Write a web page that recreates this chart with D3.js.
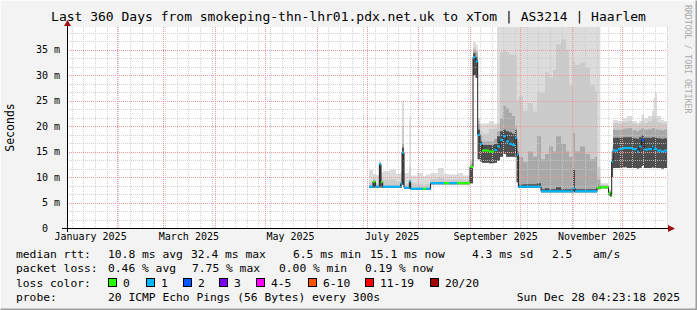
<!DOCTYPE html>
<html>
<head>
<meta charset="utf-8">
<script src="https://cdn.jsdelivr.net/npm/d3@7"></script>
<style>
body { margin: 0; background: #f3f3f3; }
svg text { font-family: "DejaVu Sans Mono", monospace; }
</style>
</head>
<body>
<div id="chart"></div>
<script>
// days since 1 Jan 2025 00:00 UTC, one row per sample (step after)
var days = [182.4,184.8,186.2,188.6,189.6,190.6,195.0,198.6,201.4,202.2,203.4,206.6,207.4,211.2,214.8,216.6,219.3,223.8,227.4,230.4,235.2,238.8,243.0,244.8,246.3,247.6,249.0,250.2,254.4,257.4,259.2,261.0,262.8,264.6,266.4,268.2,270.0,271.0,272.0,274.8,277.8,280.8,283.2,285.6,288.0,290.4,292.8,294.6,297.6,300.6,302.4,304.8,306.0,309.0,312.0,315.0,318.0,319.2,321.2,326.1,327.3,328.0,328.8,331.8,334.8,337.2,340.2,343.2,344.4,345.9,347.4,349.8,352.2,353.1,354.0,355.2,357.6,359.4];
// median rtt in ms
var median = [8.1,9.1,8.1,12.5,9.0,8.1,8.1,8.1,8.7,14.8,7.9,9.1,7.7,7.7,7.7,7.7,8.8,8.8,8.8,8.8,8.8,8.8,12.0,33.5,32.7,18.3,16.5,15.2,15.0,15.3,16.0,17.3,18.0,17.0,16.5,16.3,17.7,14.4,8.1,8.1,8.1,8.1,8.1,7.2,7.2,7.2,7.2,7.2,7.2,7.2,7.2,7.8,7.2,7.2,7.2,7.2,7.2,7.9,8.0,6.9,6.3,13.0,15.2,15.5,15.7,15.7,15.5,15.0,16.0,17.3,15.4,15.5,16.0,15.5,15.5,15.2,15.0,15.2];
// lost pings out of 20
var loss = [1,0,1,1,0,1,1,1,1,1,1,1,1,1,0,1,1,1,0,1,0,0,0,1,1,1,1,0,0,1,1,1,1,1,1,1,1,1,1,1,1,1,1,1,1,1,1,1,1,1,1,1,1,1,1,1,1,0,0,0,0,1,1,1,1,1,1,1,1,2,1,1,1,1,1,1,1,1];
// smoke: bottom of the smoke and tops of the four shades (ms)
var smokeLow = [7.9,7.9,7.9,8.0,7.9,7.9,7.9,7.9,7.9,8.5,7.7,7.7,7.5,7.5,7.5,7.5,8.6,8.6,8.6,8.6,8.6,8.6,8.8,30.0,29.5,13.5,13.0,12.8,12.7,12.8,13.2,14.0,14.5,14.0,14.0,14.0,14.0,9.0,7.9,7.9,7.9,7.9,7.9,7.0,7.0,7.0,7.0,7.0,7.0,7.0,7.0,7.0,7.0,7.0,7.0,7.0,7.0,7.6,7.8,6.4,6.1,10.0,11.8,11.8,11.9,11.8,11.8,11.7,11.8,12.2,11.8,11.8,11.9,11.8,11.8,11.8,11.7,11.8];
var smokeCore = [8.1,9.1,8.1,12.5,9.0,8.1,8.1,8.1,8.7,15.8,7.9,9.1,7.7,7.7,7.7,7.7,8.8,8.8,8.8,8.8,8.8,8.8,12.0,34.3,33.5,19.3,17.0,16.3,16.3,16.5,18.0,19.0,19.3,19.0,18.8,18.5,19.3,15.0,8.5,8.6,8.6,8.6,8.8,7.6,7.8,7.6,7.6,8.0,7.6,7.6,7.6,11.4,7.6,7.6,7.6,7.6,7.6,8.2,8.1,7.0,6.4,13.5,17.7,17.7,17.8,17.8,17.6,17.5,17.8,18.2,17.7,17.7,17.8,17.8,17.7,17.6,17.5,17.6];
var smokeDark = [8.3,9.3,8.3,12.8,9.2,8.3,8.3,8.3,9.0,16.5,8.1,9.5,7.9,7.9,7.9,7.9,9.0,9.0,9.0,9.0,9.0,9.0,12.5,35.0,34.5,20.3,18.0,17.0,17.0,17.5,19.0,21.5,24.0,23.5,22.6,22.0,20.0,17.0,14.0,13.0,15.0,14.0,18.0,13.5,14.5,16.0,15.0,18.0,16.5,15.0,14.0,18.7,15.0,16.0,14.5,13.5,14.0,9.5,8.3,7.2,6.6,14.5,19.3,19.3,19.5,19.6,19.2,19.0,19.3,19.6,19.3,19.4,19.6,19.6,19.5,19.3,19.2,19.3];
var smokeMid = [9.0,9.8,8.8,13.0,9.8,9.5,9.6,9.2,9.8,20.0,8.6,12.0,8.8,8.6,8.5,8.7,9.6,9.8,9.5,9.5,9.6,9.4,13.0,35.5,35.0,21.0,19.0,18.5,19.5,19.5,20.5,34.5,35.0,34.5,34.0,34.0,34.0,25.0,25.8,23.0,24.5,22.8,26.8,26.5,30.5,29.5,31.0,36.0,37.0,35.0,28.0,32.7,32.0,32.5,31.5,28.0,26.8,12.0,8.5,7.4,6.8,15.0,20.6,20.4,20.8,21.0,20.5,20.2,20.5,21.0,20.6,21.0,21.5,22.0,21.5,20.8,20.6,20.6];
var smokeMax = [11.4,10.6,10.4,13.2,10.8,11.2,11.5,10.6,11.0,24.8,10.8,22.0,10.3,10.8,10.2,10.5,10.8,11.8,10.6,10.5,10.8,10.3,13.5,36.5,36.0,21.5,20.5,20.5,21.0,20.5,45,45,45,45,45,45,45,45,45,45,45,45,45,45,45,45,45,45,45,45,45,45,45,45,45,45,45,45,8.8,7.6,7.0,16.0,21.2,21.0,21.5,22.0,21.0,20.6,21.0,22.3,21.5,22.0,23.0,25.5,26.5,22.0,21.2,21.0];

var yTicks = [0, 5, 10, 15, 20, 25, 30, 35];
var lossLabels = ["0", "1", "2", "3", "4-5", "6-10", "11-19", "20/20"];
var lossColors = ["#26ff00", "#00b8ff", "#0059ff", "#7e00ff", "#ff00ff", "#ff5500", "#ff0000", "#a10000"];
var rttStats = ["10.8 ms avg", "32.4 ms max", "6.5 ms min", "15.1 ms now", "4.3 ms sd", "2.5", "am/s"];
var lossStats = ["0.46 % avg", "7.75 % max", "0.00 % min", "0.19 % now"];

var W = 697, H = 310;
var plot = {left: 67, right: 667, top: 27, bottom: 228};
var end = new Date(Date.UTC(2025, 11, 28, 4, 23, 18));
var start = new Date(end.getTime() - 360 * 864e5);
var jan1 = Date.UTC(2025, 0, 1);

var data = days.map(function(d, i) {
    return { date: new Date(jan1 + d * 864e5), med: median[i], loss: loss[i],
             low: smokeLow[i], core: smokeCore[i], dark: smokeDark[i], mid: smokeMid[i], max: smokeMax[i] };
});
// close the last step at the right edge
data.push(Object.assign({}, data[data.length - 1], { date: end }));

var x_scale = d3.scaleUtc().domain([start, end]).range([plot.left, plot.right]);
var y_scale = d3.scaleLinear().domain([0, 39.45]).range([plot.bottom, plot.top]);

var svg = d3.select("#chart").append("svg")
    .attr("width", W).attr("height", H);

svg.append("rect").attr("width", W).attr("height", H).attr("fill", "#f3f3f3");
// frame
svg.append("path").attr("d", "M0.5," + (H - 0.5) + "V0.5H" + (W - 0.5)).attr("fill", "none").attr("stroke", "#fcfcfc");
svg.append("path").attr("d", "M0.5," + (H - 0.5) + "H" + (W - 0.5) + "V0.5").attr("fill", "none").attr("stroke", "#9e9e9e").attr("stroke-width", 2);

svg.append("rect")
    .attr("x", plot.left).attr("y", plot.top)
    .attr("width", plot.right - plot.left).attr("height", plot.bottom - plot.top)
    .attr("fill", "#ffffff");

svg.append("clipPath").attr("id", "clip").append("rect")
    .attr("x", plot.left).attr("y", plot.top)
    .attr("width", plot.right - plot.left).attr("height", plot.bottom - plot.top);

var g = svg.append("g").attr("clip-path", "url(#clip)");

// smoke shades, lightest first
var shades = [["max", "#dcdcdc"], ["mid", "#cbcbcb"], ["dark", "#a9a9a9"], ["core", "#4f4f4f"]];
shades.forEach(function(s) {
    g.append("path")
        .datum(data)
        .attr("fill", s[1])
        .attr("d", d3.area()
            .curve(d3.curveStepAfter)
            .x(function(d) { return x_scale(d.date) })
            .y0(function(d) { return y_scale(d.low) })
            .y1(function(d) { return y_scale(d[s[0]]) }));
});

// grid
var grid = svg.append("g");
var minorY = d3.range(0, 39.45, 5 / 3).filter(function(v) { return Math.abs(v / 5 - Math.round(v / 5)) > 0.01 });
grid.selectAll(".hmin").data(minorY).enter().append("line")
    .attr("x1", plot.left).attr("x2", plot.right)
    .attr("y1", function(d) { return Math.round(y_scale(d)) + 0.5 })
    .attr("y2", function(d) { return Math.round(y_scale(d)) + 0.5 })
    .attr("stroke", "#c8c8c8").attr("stroke-opacity", 0.8).attr("stroke-dasharray", "1,1");
grid.selectAll(".vmin").data(d3.utcSunday.range(start, end)).enter().append("line")
    .attr("x1", function(d) { return Math.round(x_scale(d)) + 0.5 })
    .attr("x2", function(d) { return Math.round(x_scale(d)) + 0.5 })
    .attr("y1", plot.top).attr("y2", plot.bottom)
    .attr("stroke", "#c8c8c8").attr("stroke-opacity", 0.8).attr("stroke-dasharray", "1,1");
grid.selectAll(".hmaj").data(yTicks.slice(1)).enter().append("line")
    .attr("x1", plot.left).attr("x2", plot.right)
    .attr("y1", function(d) { return Math.round(y_scale(d)) + 0.5 })
    .attr("y2", function(d) { return Math.round(y_scale(d)) + 0.5 })
    .attr("stroke", "#f19999").attr("stroke-dasharray", "1,1");
grid.selectAll(".vmaj").data(d3.utcMonth.range(start, end)).enter().append("line")
    .attr("x1", function(d) { return Math.round(x_scale(d)) + 0.5 })
    .attr("x2", function(d) { return Math.round(x_scale(d)) + 0.5 })
    .attr("y1", plot.top).attr("y2", plot.bottom)
    .attr("stroke", "#f19999").attr("stroke-dasharray", "1,1");

// median line: thin dark step line, then loss coloured pieces
var lines = svg.append("g").attr("clip-path", "url(#clip)");
lines.append("path")
    .datum(data)
    .attr("fill", "none")
    .attr("stroke", "#202020")
    .attr("stroke-width", 1)
    .attr("d", d3.line()
        .curve(d3.curveStepAfter)
        .x(function(d) { return x_scale(d.date) })
        .y(function(d) { return y_scale(d.med) }));
lines.selectAll(".seg").data(data.slice(0, -1)).enter().append("line")
    .attr("x1", function(d) { return x_scale(d.date) })
    .attr("x2", function(d, i) { return x_scale(data[i + 1].date) })
    .attr("y1", function(d) { return y_scale(d.med) })
    .attr("y2", function(d) { return y_scale(d.med) })
    .attr("stroke", function(d) { return lossColors[d.loss] })
    .attr("stroke-width", 2.2);

// axes
var xAxis = svg.append("g")
    .attr("transform", "translate(0," + plot.bottom + ")")
    .call(d3.axisBottom(x_scale)
        .tickValues(d3.utcMonth.every(2).range(d3.utcMonth.floor(start), end).map(function(d) { return d3.utcDay.offset(d, 15) }))
        .tickFormat(function(d) { return d3.utcFormat("%B %Y")(d) })
        .tickSize(0).tickPadding(5));
xAxis.select(".domain").remove();
xAxis.selectAll("text").attr("font-family", "DejaVu Sans Mono").attr("font-size", 10).attr("fill", "#000");

var yAxis = svg.append("g")
    .attr("transform", "translate(" + (plot.left - 7) + ",0)")
    .call(d3.axisLeft(y_scale)
        .tickValues(yTicks)
        .tickFormat(function(d) { return d === 0 ? "0\u00a0\u00a0" : d + " m" })
        .tickSize(0).tickPadding(0));
yAxis.select(".domain").remove();
yAxis.selectAll("text").attr("font-family", "DejaVu Sans Mono").attr("font-size", 10).attr("fill", "#000");

svg.append("line").attr("x1", plot.left - 5).attr("x2", plot.right + 3)
    .attr("y1", plot.bottom + 0.5).attr("y2", plot.bottom + 0.5).attr("stroke", "#000");
svg.append("line").attr("x1", plot.left + 0.5).attr("x2", plot.left + 0.5)
    .attr("y1", plot.bottom + 4).attr("y2", plot.top - 2).attr("stroke", "#000");
svg.append("path").attr("fill", "#a01010")
    .attr("d", "M" + (plot.right + 1) + "," + (plot.bottom - 3) + "l7,3.5l-7,3.5z");
svg.append("path").attr("fill", "#a01010")
    .attr("d", "M" + (plot.left - 3) + "," + (plot.top - 1) + "l3.5,-6l3.5,6z");

// texts
svg.append("text").attr("x", W / 2).attr("y", 21).attr("text-anchor", "middle")
    .attr("font-size", 13).attr("fill", "#000")
    .text("Last 360 Days from smokeping-thn-lhr01.pdx.net.uk to xTom | AS3214 | Haarlem");
svg.append("text").attr("transform", "translate(14," + ((plot.top + plot.bottom) / 2) + ") rotate(-90)")
    .attr("text-anchor", "middle").attr("font-size", 11.5).attr("fill", "#000").text("Seconds");
svg.append("text").attr("transform", "translate(685,5) rotate(90)")
    .attr("font-size", 8.2).attr("fill", "#aaaaaa").text("RRDTOOL / TOBI OETIKER");

var legend = svg.append("g").attr("font-size", 11.3).attr("fill", "#000");
function put(str, x, y, anchor) {
    legend.append("text").attr("x", x).attr("y", y).attr("text-anchor", anchor || "start")
        .style("white-space", "pre").text(str);
}
put("median rtt:", 16, 258);
[108, 191, 293, 370, 472, 552, 593].forEach(function(x, i) { put(rttStats[i], x, 258) });
put("packet loss:", 16, 272);
[108, 192, 279, 365].forEach(function(x, i) { put(lossStats[i], x, 272) });
put("loss color:", 16, 287);
[108, 146, 183, 219, 256, 308, 365, 430].forEach(function(x, i) {
    legend.append("rect").attr("x", x + 0.5).attr("y", 278.5).attr("width", 8).attr("height", 8)
        .attr("fill", lossColors[i]).attr("stroke", "#000");
    put(lossLabels[i], x + 15, 287);
});
put("probe:", 16, 301);
put("20 ICMP Echo Pings (56 Bytes) every 300s", 108, 301);
put("Sun Dec 28 04:23:18 2025", 680, 301, "end");
</script>
</body>
</html>
